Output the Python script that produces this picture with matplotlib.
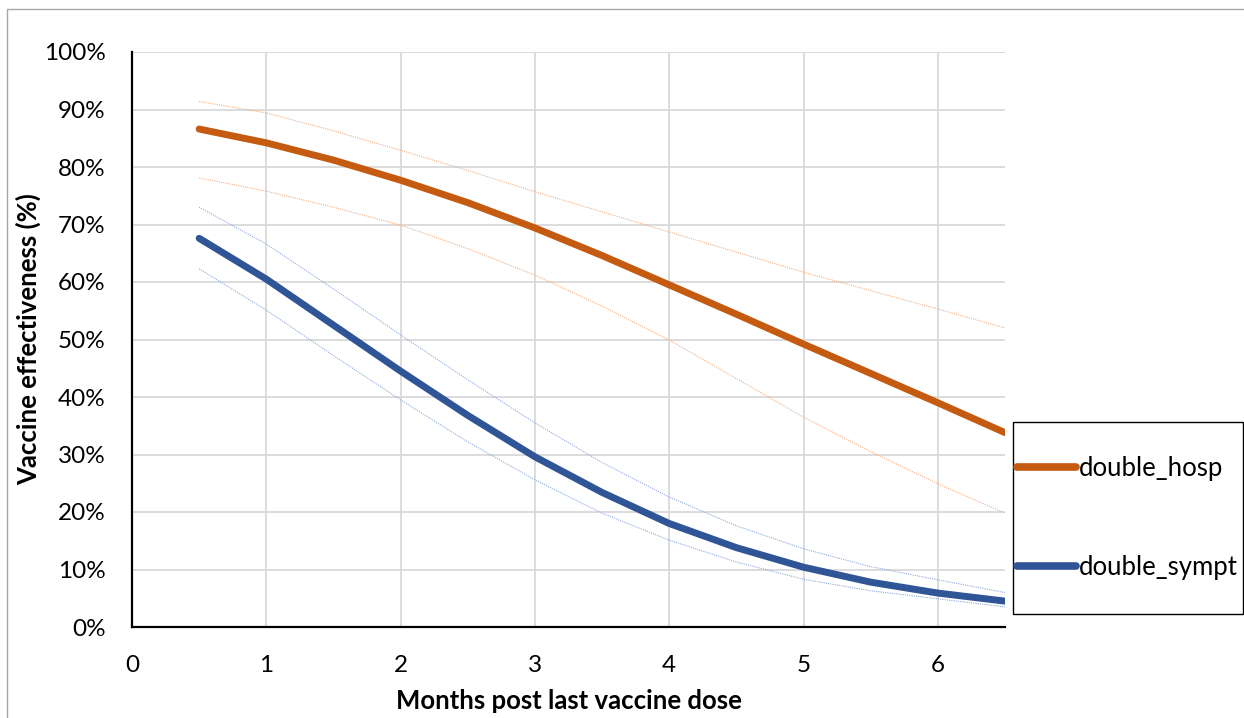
import matplotlib
matplotlib.use("Agg")
import matplotlib.pyplot as plt
from matplotlib.patches import Rectangle

plt.rcParams['font.family'] = ['Lato', 'DejaVu Sans']

# ---- data ----
months = [0.5, 1.0, 1.5, 2.0, 2.5, 3.0, 3.5, 4.0, 4.5, 5.0, 5.5, 6.0, 6.5]
double_hosp = [86.6, 84.2, 81.2, 77.7, 73.8, 69.4, 64.6, 59.5, 54.4, 49.2, 44.1, 39.0, 33.8]
double_hosp_upper = [91.4, 89.4, 86.3, 82.9, 79.4, 75.7, 72.2, 68.7, 65.2, 61.7, 58.5, 55.3, 52.0]
double_hosp_lower = [78.1, 75.8, 73.0, 69.9, 65.8, 61.2, 55.8, 49.9, 43.2, 36.5, 30.5, 24.9, 19.8]
double_sympt = [67.6, 60.5, 52.5, 44.5, 36.8, 29.6, 23.4, 18.0, 13.8, 10.4, 7.8, 5.9, 4.5]
double_sympt_upper = [73.0, 66.6, 58.8, 50.8, 43.0, 35.5, 28.6, 22.6, 17.6, 13.6, 10.5, 8.2, 6.0]
double_sympt_lower = [62.3, 55.1, 47.2, 39.5, 32.2, 25.6, 19.8, 15.1, 11.3, 8.3, 6.3, 4.9, 3.5]

x_ticks = [0, 1, 2, 3, 4, 5, 6]
y_ticks = [0, 10, 20, 30, 40, 50, 60, 70, 80, 90, 100]
y_ticklabels = [f"{v}%" for v in y_ticks]
series_labels = ["double_hosp", "double_sympt"]

ORANGE = "#C55A11"
BLUE = "#2F5597"
ORANGE_L = "#F4B183"
BLUE_L = "#8FAADC"

W, H = 1244, 718
fig = plt.figure(figsize=(W / 100, H / 100), dpi=100)
fig.patch.set_facecolor("white")

# figure border (chart area outline)
fig.add_artist(Rectangle((7 / W, -0.05), 1.2, 1 - 9 / H + 0.05, transform=fig.transFigure,
                         fill=False, edgecolor="#A6A6A6", linewidth=1.0))

ax = fig.add_axes([132 / W, (H - 627) / H, (1005 - 132) / W, (627 - 52) / H])

# confidence bands (thin dotted)
for up, lo, c in [(double_hosp_upper, double_hosp_lower, ORANGE_L),
                  (double_sympt_upper, double_sympt_lower, BLUE_L)]:
    ax.plot(months, up, color=c, lw=0.8, ls=(0, (1, 1)), zorder=3)
    ax.plot(months, lo, color=c, lw=0.8, ls=(0, (1, 1)), zorder=3)

l1, = ax.plot(months, double_hosp, color=ORANGE, lw=5.0, solid_capstyle="round",
              solid_joinstyle="round", zorder=4)
l2, = ax.plot(months, double_sympt, color=BLUE, lw=5.0, solid_capstyle="round",
              solid_joinstyle="round", zorder=4)

ax.set_xlim(0, 6.5)
ax.set_ylim(0, 100)
ax.set_xticks(x_ticks)
ax.set_xticklabels([str(v) for v in x_ticks])
ax.set_yticks(y_ticks)
ax.set_yticklabels(y_ticklabels)
ax.tick_params(axis="both", length=0, labelsize=17.5, colors="black")
ax.tick_params(axis="x", pad=20)
ax.tick_params(axis="y", pad=19)

ax.grid(True, color="#D9D9D9", lw=1.3, zorder=0)
ax.set_axisbelow(True)
for s in ["top", "right"]:
    ax.spines[s].set_visible(False)
for s in ["left", "bottom"]:
    ax.spines[s].set_color("black")
    ax.spines[s].set_linewidth(1.6)
    ax.spines[s].set_zorder(5)

ax.set_xlabel("Months post last vaccine dose", fontsize=18.5, fontweight="bold")
ax.set_ylabel("Vaccine effectiveness (%)", fontsize=18.5, fontweight="bold")
ax.xaxis.set_label_coords(0.5, (627 - 689) / 575)
ax.yaxis.set_label_coords((41 - 132) / 873, 0.5)

# legend box
fig.add_artist(Rectangle((1012.5 / W, (H - 614) / H), (1243 - 1012.5) / W, (614 - 421.7) / H,
                         transform=fig.transFigure, fill=True, facecolor="white",
                         edgecolor="black", linewidth=1.0, zorder=10))
leg = fig.legend([l1, l2], series_labels, loc="center left",
                 bbox_to_anchor=(1017 / W, 1 - 518 / H), bbox_transform=fig.transFigure,
                 frameon=False, fontsize=18.5, handlelength=2.3, handletextpad=0.12,
                 labelspacing=2.85, borderpad=0.0, borderaxespad=0.0)
leg.set_zorder(11)
for h in leg.legend_handles:
    h.set_linewidth(5.5)

fig.savefig("out.png", dpi=100, facecolor="white")
